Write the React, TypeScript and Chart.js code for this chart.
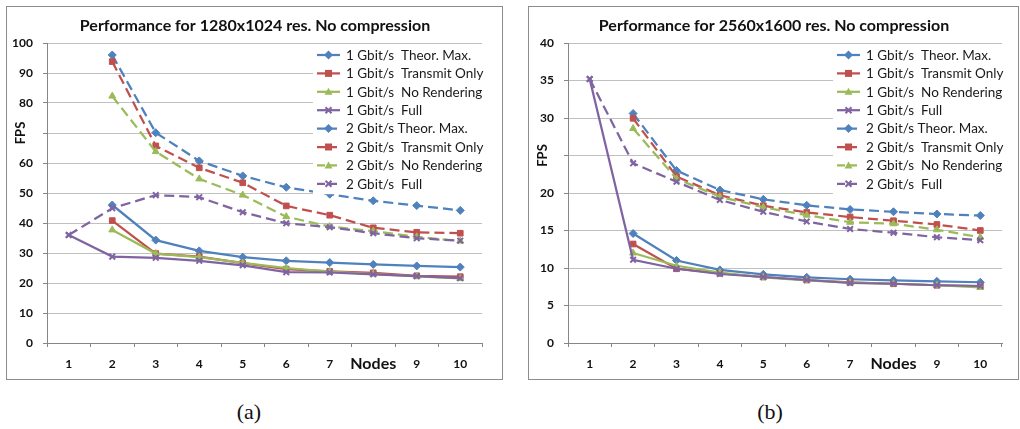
import React, { useEffect, useRef } from "react";
import { Chart, registerables } from "chart.js";
Chart.register(...registerables);

const FONT = "Lato, 'Liberation Sans', sans-serif";

const nodes = ["1", "2", "3", "4", "5", "6", "7", "8", "9", "10"];
const seriesLabels = [
  "1 Gbit/s  Theor. Max.",
  "1 Gbit/s  Transmit Only",
  "1 Gbit/s  No Rendering",
  "1 Gbit/s  Full",
  "2 Gbit/s Theor. Max.",
  "2 Gbit/s  Transmit Only",
  "2 Gbit/s  No Rendering",
  "2 Gbit/s  Full",
];
const colors = ["#4F81BD", "#C0504D", "#9BBB59", "#8064A2"];
const markers = ["rectRot", "rect", "triangle", "crossRot"];

// (a) 1280x1024
const a1Theor = [null, 46, 34.3, 30.7, 28.6, 27.4, 26.8, 26.2, 25.7, 25.3];
const a1Transmit = [null, 40.8, 29.8, 28.8, 26.6, 24.6, 23.9, 23.4, 22.4, 22.1];
const a1NoRender = [null, 37.7, 29.8, 28.6, 26.7, 25.0, 23.8, 23.0, 22.2, 21.5];
const a1Full = [36, 28.8, 28.4, 27.4, 25.9, 23.6, 23.5, 22.9, 22.3, 21.6];
const a2Theor = [null, 96, 70.1, 60.7, 55.7, 51.9, 49.6, 47.4, 45.8, 44.2];
const a2Transmit = [null, 93.8, 65.7, 58.4, 53.4, 45.7, 42.6, 38.4, 36.9, 36.6];
const a2NoRender = [null, 82.3, 63.8, 54.7, 49.3, 42.1, 38.8, 37.3, 35.4, 34.0];
const a2Full = [36, 44.9, 49.3, 48.6, 43.6, 39.9, 38.6, 36.6, 34.9, 34.1];

// (b) 2560x1600
const b1Theor = [null, 14.6, 11.0, 9.75, 9.16, 8.76, 8.5, 8.36, 8.22, 8.1];
const b1Transmit = [null, 13.2, 9.9, 9.3, 8.8, 8.4, 8.1, 7.9, 7.7, 7.6];
const b1NoRender = [null, 12.0, 10.3, 9.4, 8.75, 8.35, 8.05, 7.9, 7.7, 7.4];
const b1Full = [35.2, 11.1, 9.9, 9.2, 8.8, 8.4, 8.0, 7.9, 7.7, 7.6];
const b2Theor = [null, 30.6, 23.0, 20.4, 19.16, 18.36, 17.8, 17.5, 17.2, 17.0];
const b2Transmit = [null, 29.96, 22.2, 19.7, 18.3, 17.4, 16.8, 16.3, 15.8, 15.0];
const b2NoRender = [null, 28.6, 21.9, 19.5, 18.1, 17.05, 16.1, 15.9, 15.1, 14.1];
const b2Full = [35.2, 23.96, 21.5, 19.07, 17.5, 16.2, 15.2, 14.7, 14.1, 13.7];

const yMaxA = 100, yStepA = 10, hiddenTickA = 70;
const yMaxB = 40, yStepB = 5, hiddenTickB = 25;

const titleA = "Performance for 1280x1024 res. No compression";
const titleB = "Performance for 2560x1600 res. No compression";
const xTitle = "Nodes";
const yTitle = "FPS";

const DASH = [10, 5];

function makeDatasets(series: (number | null)[][]) {
  return series.map((data, i) => {
    const c = colors[i % 4];
    const dashed = i >= 4;
    return {
      label: seriesLabels[i],
      data,
      borderColor: c,
      backgroundColor: c,
      borderWidth: 2.25,
      borderDash: dashed ? DASH : [],
      pointStyle: markers[i % 4],
      pointRadius: 4,
      pointBorderWidth: i % 4 === 3 ? 2 : 1,
      pointBackgroundColor: c,
      pointBorderColor: c,
      tension: 0,
      spanGaps: false,
      fill: false,
      order: 8 - i,
    };
  });
}

function drawMarker(ctx: CanvasRenderingContext2D, style: string, x: number, y: number, r: number, c: string) {
  ctx.save();
  ctx.fillStyle = c;
  ctx.strokeStyle = c;
  ctx.setLineDash([]);
  ctx.beginPath();
  if (style === "rectRot") {
    ctx.moveTo(x, y - r - 0.5);
    ctx.lineTo(x + r + 0.5, y);
    ctx.lineTo(x, y + r + 0.5);
    ctx.lineTo(x - r - 0.5, y);
    ctx.closePath();
    ctx.fill();
  } else if (style === "rect") {
    ctx.rect(x - r + 0.5, y - r + 0.5, 2 * r - 1, 2 * r - 1);
    ctx.fill();
  } else if (style === "triangle") {
    ctx.moveTo(x, y - r);
    ctx.lineTo(x + r, y + r * 0.75);
    ctx.lineTo(x - r, y + r * 0.75);
    ctx.closePath();
    ctx.fill();
  } else {
    ctx.lineWidth = 2;
    const d = r * 0.75;
    ctx.moveTo(x - d, y - d);
    ctx.lineTo(x + d, y + d);
    ctx.moveTo(x + d, y - d);
    ctx.lineTo(x - d, y + d);
    ctx.stroke();
  }
  ctx.restore();
}

function makeDecorPlugin(title: string, hiddenTick: number, legendOffset: number) {
  return {
    id: "decor",
    afterDatasetsDraw(chart: any) {
      const ctx: CanvasRenderingContext2D = chart.ctx;
      const area = chart.chartArea;
      // legend
      const x0 = area.right - legendOffset;
      const y0 = area.top + 12;
      const rowH = 18.4;
      ctx.save();
      ctx.fillStyle = "#ffffff";
      ctx.fillRect(x0 - 4, area.top + 3, chart.width - (x0 - 4) - 2, rowH * 8 + 1);
      ctx.font = `13.5px ${FONT}`;
      ctx.textBaseline = "middle";
      ctx.textAlign = "left";
      seriesLabels.forEach((lab, i) => {
        const y = y0 + i * rowH;
        const c = colors[i % 4];
        ctx.strokeStyle = c;
        ctx.lineWidth = 2.25;
        ctx.setLineDash(i >= 4 ? [8, 4] : []);
        ctx.beginPath();
        ctx.moveTo(x0, y);
        ctx.lineTo(x0 + 23, y);
        ctx.stroke();
        drawMarker(ctx, markers[i % 4], x0 + 11.5, y, 4, c);
        ctx.fillStyle = "#1a1a1a";
        ctx.fillText(lab, x0 + 29, y + 0.5);
      });
      ctx.restore();
    },
    afterDraw(chart: any) {
      const ctx: CanvasRenderingContext2D = chart.ctx;
      ctx.save();
      // border
      ctx.strokeStyle = "#8c8c8c";
      ctx.lineWidth = 1;
      ctx.strokeRect(0.5, 0.5, chart.width - 2, chart.height - 1);
      // title
      ctx.fillStyle = "#111111";
      ctx.font = `bold 16px ${FONT}`;
      ctx.textAlign = "center";
      ctx.textBaseline = "middle";
      ctx.fillText(title, chart.width / 2, 20);
      // y title at the hidden tick position
      const ys = chart.scales.y;
      const yPix = ys.getPixelForValue(hiddenTick);
      ctx.translate(15, yPix);
      ctx.rotate(-Math.PI / 2);
      ctx.font = `bold 13px ${FONT}`;
      ctx.fillText(yTitle, 0, 0);
      ctx.restore();
    },
  };
}

function ChartPanel(props: {
  series: (number | null)[][];
  title: string;
  yMax: number;
  yStep: number;
  hiddenTick: number;
  left: number;
  width: number;
  plotLeft: number;
  plotRight: number;
}) {
  const ref = useRef<HTMLCanvasElement>(null);
  useEffect(() => {
    if (!ref.current) return;
    const { series, title, yMax, yStep, hiddenTick, width, plotLeft, plotRight } = props;
    const chart = new Chart(ref.current, {
      type: "line",
      data: { labels: nodes, datasets: makeDatasets(series) as any },
      options: {
        responsive: false,
        animation: false,
        layout: { padding: { top: 37, right: width - plotRight, bottom: 0, left: 0 } },
        plugins: { legend: { display: false }, title: { display: false }, tooltip: { enabled: false } },
        scales: {
          x: {
            type: "category",
            offset: true,
            grid: {
              display: true,
              drawOnChartArea: false,
              drawTicks: true,
              tickLength: 4,
              color: "#868686",
              offset: true,
            },
            border: { color: "#868686", width: 1 },
            ticks: {
              autoSkip: false,
              maxRotation: 0,
              padding: 10,
              color: "#111111",
              callback: (_v: any, i: number) => (i === 7 ? xTitle : nodes[i]),
              font: (c: any) =>
                c.index === 7
                  ? { family: FONT, size: 16, weight: "bold", lineHeight: 0.8 }
                  : { family: FONT, size: 12, weight: "bold" },
            },
            afterFit: (s: any) => {
              s.height = 37;
            },
          },
          y: {
            min: 0,
            max: yMax,
            grid: { color: "#c0c0c0", tickColor: "#868686", tickLength: 4, lineWidth: 1 },
            border: { color: "#868686", width: 1 },
            ticks: {
              stepSize: yStep,
              padding: 10,
              color: "#111111",
              font: { family: FONT, size: 12, weight: "bold" },
              callback: (v: any) => (v === hiddenTick ? "" : String(v)),
            },
            afterFit: (s: any) => {
              s.width = plotLeft;
            },
          },
        },
      },
      plugins: [makeDecorPlugin(title, hiddenTick, 165)],
    });
    return () => chart.destroy();
  }, []);
  return (
    <canvas
      ref={ref}
      width={props.width}
      height={374}
      style={{ position: "absolute", left: props.left, top: 6, width: props.width, height: 374 }}
    />
  );
}

export default function App() {
  const captionStyle: React.CSSProperties = {
    position: "absolute",
    top: 397,
    width: 60,
    textAlign: "center",
    font: "22px 'Liberation Serif', 'Times New Roman', serif",
    color: "#111",
    lineHeight: "30px",
  };
  return (
    <div style={{ position: "absolute", left: 0, top: 0, width: 1020, height: 429, background: "#fff" }}>
      <ChartPanel
        series={[a1Theor, a1Transmit, a1NoRender, a1Full, a2Theor, a2Transmit, a2NoRender, a2Full]}
        title={titleA}
        yMax={yMaxA}
        yStep={yStepA}
        hiddenTick={hiddenTickA}
        left={6}
        width={498}
        plotLeft={41}
        plotRight={476}
      />
      <ChartPanel
        series={[b1Theor, b1Transmit, b1NoRender, b1Full, b2Theor, b2Transmit, b2NoRender, b2Full]}
        title={titleB}
        yMax={yMaxB}
        yStep={yStepB}
        hiddenTick={hiddenTickB}
        left={528}
        width={492}
        plotLeft={40}
        plotRight={474}
      />
      <div style={{ ...captionStyle, left: 219 }}>(a)</div>
      <div style={{ ...captionStyle, left: 740 }}>(b)</div>
    </div>
  );
}
